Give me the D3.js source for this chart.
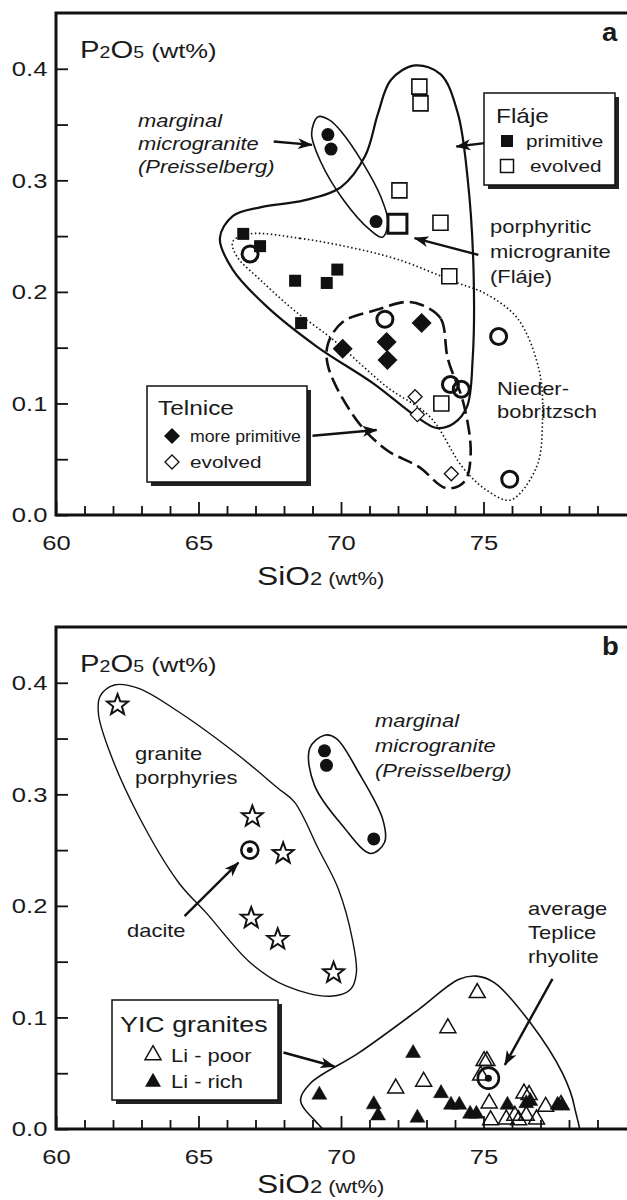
<!DOCTYPE html>
<html><head><meta charset="utf-8">
<script src="https://cdn.jsdelivr.net/npm/d3@7"></script>
<style>
body{margin:0;background:#fff}
svg{display:block}
text{font-family:"Liberation Sans",Arial,Helvetica,sans-serif;fill:#1a1a1a}
</style>
</head><body>
<svg id="c" width="627" height="1200"></svg>
<script>
// ---------------- DATA ----------------
const xDomain = [60, 80];
const yDomain = [0, 0.45];
const xMajor = [60, 65, 70, 75];
const xMinor = [61,62,63,64,66,67,68,69,71,72,73,74,76,77,78,79];
const yMajor = [0, 0.1, 0.2, 0.3, 0.4];
const yMinor = [0.05, 0.15, 0.25, 0.35];

// Panel a  [SiO2, P2O5]
const flajePrimitive = [[66.57,0.252],[67.16,0.241],[68.39,0.210],[69.50,0.208],[69.87,0.220],[68.60,0.172]];
const flajeEvolved = [[72.75,0.384],[72.79,0.369],[72.05,0.291],[73.49,0.262],[73.80,0.214],[73.52,0.100]];
const porphyriticFlaje = [[71.98,0.261]];
const preisselbergA = [[69.54,0.341],[69.65,0.328],[71.23,0.263]];
const niederbobritzsch = [[66.81,0.234],[71.54,0.1755],[75.53,0.160],[73.84,0.117],[74.22,0.1127],[75.92,0.032]];
const telnicePrimitive = [[72.83,0.172],[71.60,0.155],[71.63,0.139],[70.06,0.149]];
const telniceEvolved = [[72.60,0.106],[72.68,0.090],[73.87,0.037]];

// Panel b
const granitePorphyries = [[62.16,0.380],[66.89,0.280],[67.97,0.247],[66.85,0.189],[67.78,0.170],[69.74,0.140]];
const dacite = [[66.80,0.250]];
const preisselbergB = [[69.42,0.339],[69.49,0.326],[71.15,0.260]];
const liPoor = [[74.78,0.122],[73.75,0.0905],[75.02,0.061],[75.12,0.061],[74.90,0.048],[71.92,0.0365],[72.90,0.0425],
  [75.20,0.023],[75.25,0.008],[76.42,0.032],[76.60,0.0306],[77.18,0.020],[77.72,0.0216],[76.86,0.0087],[75.80,0.0087],
  [76.23,0.008],[76.50,0.012],[76.10,0.012]];
const liRich = [[69.24,0.0306],[72.53,0.068],[71.15,0.022],[71.30,0.012],[72.68,0.010],[73.51,0.032],[73.86,0.0216],
  [74.15,0.0216],[74.53,0.0135],[74.75,0.0135],[75.84,0.0216],[76.50,0.023],[76.64,0.025],[77.60,0.0216],[77.75,0.021]];
const tepliceRhyolite = [[75.17,0.0456]];

// Field outlines (closed curves) [SiO2, P2O5]
const fieldFlaje = [[72.6,0.403],[73.5,0.395],[74.1,0.36],[74.45,0.30],[74.65,0.22],[74.62,0.14],[74.42,0.097],[73.95,0.082],
  [73.35,0.078],[72.65,0.088],[71.13,0.118],[69.15,0.151],[67.39,0.187],[66.2,0.22],[65.75,0.248],[66.2,0.268],[67.2,0.276],
  [68.7,0.282],[70.0,0.294],[70.85,0.322],[71.3,0.36],[71.75,0.39]];
const fieldPreisselbergA = [[69.2,0.357],[69.6,0.354],[70.0,0.344],[70.78,0.315],[71.4,0.285],[71.65,0.262],[71.45,0.249],
  [71.0,0.256],[70.1,0.282],[69.3,0.316],[68.97,0.342]];
const fieldNieder = [[66.8,0.252],[68.56,0.248],[70.3,0.240],[72.0,0.229],[74.1,0.208],[75.1,0.198],[76.2,0.176],[76.95,0.13],
  [77.07,0.085],[76.86,0.043],[75.95,0.0135],[75.1,0.0224],[74.26,0.043],[73.12,0.088],[71.6,0.115],[69.73,0.157],
  [68.33,0.184],[67.16,0.211],[66.34,0.232],[66.2,0.245]];
const fieldTelnice = [[72.86,0.188],[73.5,0.176],[73.75,0.14],[74.3,0.10],[74.55,0.055],[74.33,0.030],[73.70,0.024],
  [72.72,0.0433],[71.6,0.0583],[70.55,0.085],[69.55,0.133],[69.55,0.154],[70.08,0.1734],[71.25,0.1839],[72.3,0.191]];
const fieldPorphyries = [[62.05,0.398],[62.9,0.395],[64.3,0.374],[66.4,0.335],[67.81,0.305],[68.37,0.293],[69.21,0.251],
  [69.91,0.215],[70.4,0.170],[70.54,0.140],[70.33,0.125],[69.63,0.119],[68.09,0.128],[66.82,0.149],[65.28,0.1935],
  [64.3,0.221],[62.89,0.281],[61.84,0.341],[61.49,0.372],[61.55,0.388]];
const fieldPreisselbergB = [[69.42,0.353],[69.84,0.350],[70.61,0.320],[71.46,0.278],[71.53,0.257],[71.04,0.247],
  [70.05,0.272],[69.07,0.308],[68.9,0.341]];
const fieldYIC = [[74.75,0.137],[75.39,0.131],[76.65,0.095],[77.77,0.050],[78.19,0.020],[78.25,-0.02],[70.5,-0.02],
  [69.07,0.008],[68.58,0.026],[68.93,0.041],[70.61,0.068],[72.72,0.107],[74.12,0.134]];

// Arrows [from, to] in data units
const arrowsA = [[[67.64,0.3348],[68.98,0.3318]],[[75.04,0.3334],[74.05,0.3303]],
  [[74.82,0.2332],[72.58,0.2482]],[[69.0,0.0711],[71.25,0.0762]]];
const arrowsB = [[[64.51,0.1908],[66.40,0.2388]],[[67.98,0.0686],[69.77,0.056]],[[77.42,0.1346],[75.75,0.0575]]];

// ---------------- DRAW ----------------
const SX = 1.22;
const svg = d3.select("#c");
const defs = svg.append("defs");
defs.append("marker").attr("id","ah").attr("viewBox","0 -6 15 12").attr("refX",14).attr("refY",0)
  .attr("markerWidth",15).attr("markerHeight",12).attr("markerUnits","userSpaceOnUse").attr("orient","auto")
  .append("path").attr("d","M0,-5.5L15,0L0,5.5L4,0Z").attr("fill","#111");

const LEFT = 56, RIGHT = 627, XR = 626;

const sq = s => `M${-s/2},${-s/2}h${s}v${s}h${-s}Z`;
const dia = r => `M0,${-r}L${r},0L0,${r}L${-r},0Z`;
const tri = s => { const h = s*0.87; return `M0,${-2*h/3}L${s/2},${h/3}L${-s/2},${h/3}Z`; };
const star = (R, r) => { let p = ""; for (let i = 0; i < 10; i++) { const a = -Math.PI/2 + i*Math.PI/5; const rr = i%2 ? r : R; p += (i ? "L" : "M") + (rr*Math.cos(a)).toFixed(2) + "," + (rr*Math.sin(a)).toFixed(2); } return p + "Z"; };
const circ = r => `M${r},0A${r},${r} 0 1,1 ${-r},0A${r},${r} 0 1,1 ${r},0Z`;

function label(g, x, y, str, size, o = {}) {
  const t = g.append("text").attr("transform", `translate(${x},${y}) scale(${o.sx || SX},1)`).attr("font-size", size);
  if (o.italic) t.attr("font-style", "italic");
  if (o.bold) t.attr("font-weight", "bold");
  if (o.anchor) t.attr("text-anchor", o.anchor);
  t.text(str);
  return t;
}
function lines(g, x, y, arr, size, lh, o) { arr.forEach((s, i) => label(g, x, y + i*lh, s, size, o)); }

function points(g, data, x, y, d, fill, stroke, sw) {
  g.append("g").selectAll("path").data(data).join("path")
    .attr("transform", p => `translate(${x(p[0])},${y(p[1])})`)
    .attr("d", d).attr("fill", fill).attr("stroke", stroke || "none").attr("stroke-width", sw || 0);
}

function panel(top, bottom, id) {
  const x = d3.scaleLinear(xDomain, [LEFT, XR]);
  const y = d3.scaleLinear(yDomain, [bottom, top]);
  const g = svg.append("g");
  defs.append("clipPath").attr("id", id).append("rect").attr("x", LEFT).attr("y", top).attr("width", RIGHT-LEFT).attr("height", bottom-top);
  const plot = g.append("g");
  const clipped = plot.append("g").attr("clip-path", `url(#${id})`);
  const ax = g.append("g").attr("class", "axes");
  const fmtX = d3.format("d"), fmtY = d3.format(".1f");
  ax.append("g").attr("transform", `translate(0,${bottom})`)
    .call(d3.axisBottom(x).tickValues(xMajor).tickSize(-13).tickPadding(20).tickFormat(fmtX));
  ax.append("g").attr("transform", `translate(0,${bottom})`)
    .call(d3.axisBottom(x).tickValues(xMinor).tickSize(-9).tickFormat(""));
  ax.append("g").attr("transform", `translate(${LEFT},0)`)
    .call(d3.axisLeft(y).tickValues(yMajor).tickSize(-12).tickPadding(7).tickFormat(fmtY));
  ax.append("g").attr("transform", `translate(${LEFT},0)`)
    .call(d3.axisLeft(y).tickValues(yMinor).tickSize(-12).tickFormat(""));
  ax.selectAll(".domain").remove();
  ax.selectAll(".tick line").attr("stroke", "#111").attr("stroke-width", 1.8);
  ax.selectAll(".tick text").attr("font-size", 21).attr("fill", "#1a1a1a")
    .attr("font-family", '"Liberation Sans",Arial,sans-serif')
    .attr("transform", `scale(${SX},1)`);
  ax.append("path").attr("d", `M${RIGHT},${top}H${LEFT}V${bottom}H${RIGHT}`)
    .attr("fill", "none").attr("stroke", "#111").attr("stroke-width", 3).attr("stroke-linejoin", "miter");
  return {g, plot, clipped, x, y};
}

function arrows(g, list, x, y) {
  g.append("g").selectAll("line").data(list).join("line")
    .attr("x1", d => x(d[0][0])).attr("y1", d => y(d[0][1]))
    .attr("x2", d => x(d[1][0])).attr("y2", d => y(d[1][1]))
    .attr("stroke", "#111").attr("stroke-width", 2.4).attr("marker-end", "url(#ah)");
}
function field(g, data, x, y, sw, dash) {
  const ln = d3.line().x(d => x(d[0])).y(d => y(d[1])).curve(d3.curveCatmullRomClosed.alpha(0.5));
  const p = g.append("path").datum(data).attr("d", ln).attr("fill", "none").attr("stroke", "#111").attr("stroke-width", sw);
  if (dash) p.attr("stroke-dasharray", dash);
  return p;
}
function axisTitles(g, top, xBase, letter) {
  const t = g.append("text").attr("transform", `translate(80,${top + 45}) scale(${SX},1)`);
  t.append("tspan").attr("font-size", 24).text("P");
  t.append("tspan").attr("font-size", 16).text("2");
  t.append("tspan").attr("font-size", 24).text("O");
  t.append("tspan").attr("font-size", 16).text("5");
  t.append("tspan").attr("font-size", 21).text(" (wt%)");
  label(g, 602, top + 28, letter, 25, {bold: true, sx: 1.1});
  const s = g.append("text").attr("transform", `translate(257,${xBase}) scale(${SX},1)`);
  s.append("tspan").attr("font-size", 26).text("SiO");
  s.append("tspan").attr("font-size", 18).text("2 (wt%)");
}
function legendBox(g, x0, y0, w, h) {
  g.append("rect").attr("x", x0 + 4).attr("y", y0 + 4).attr("width", w).attr("height", h).attr("fill", "#222");
  g.append("rect").attr("x", x0).attr("y", y0).attr("width", w).attr("height", h).attr("fill", "#fff").attr("stroke", "#111").attr("stroke-width", 1.5);
}

// ===== Panel a =====
{
  const P = panel(13, 515, "clipA");
  const {plot, clipped, x, y, g} = P;
  field(clipped, fieldFlaje, x, y, 2.2);
  field(clipped, fieldPreisselbergA, x, y, 1.6);
  field(clipped, fieldNieder, x, y, 1.6, "1.5,2.5");
  field(clipped, fieldTelnice, x, y, 2.6, "15,6");
  arrows(plot, arrowsA, x, y);
  points(plot, flajePrimitive, x, y, sq(12), "#111");
  points(plot, niederbobritzsch, x, y, circ(8), "none", "#111", 3);
  points(plot, flajeEvolved, x, y, sq(15), "#fff", "#111", 1.6);
  points(plot, porphyriticFlaje, x, y, sq(19), "#fff", "#111", 3);
  points(plot, preisselbergA, x, y, circ(6.5), "#111");
  points(plot, telnicePrimitive, x, y, dia(10), "#111");
  points(plot, telniceEvolved, x, y, dia(7), "#fff", "#111", 1.3);
  axisTitles(g, 13, 585, "a");
  lines(g, 138, 127, ["marginal", "microgranite", "(Preisselberg)"], 18, 23, {italic: true});
  lines(g, 490, 233, ["porphyritic", "microgranite", "(Fláje)"], 18, 25);
  lines(g, 497, 395, ["Nieder-", "bobritzsch"], 18, 23);
  legendBox(g, 484, 93, 131, 92);
  label(g, 496, 123, "Fláje", 20);
  g.append("path").attr("transform", "translate(507,141)").attr("d", sq(12)).attr("fill", "#111");
  label(g, 526, 147, "primitive", 17);
  g.append("path").attr("transform", "translate(507,166)").attr("d", sq(13)).attr("fill", "#fff").attr("stroke", "#111").attr("stroke-width", 1.5);
  label(g, 530, 172, "evolved", 17);
  legendBox(g, 147, 386, 160, 96);
  label(g, 158, 415, "Telnice", 20);
  g.append("path").attr("transform", "translate(172,436)").attr("d", dia(8)).attr("fill", "#111");
  label(g, 190, 442, "more primitive", 17, {sx: 1.04});
  g.append("path").attr("transform", "translate(172,462)").attr("d", dia(7)).attr("fill", "#fff").attr("stroke", "#111").attr("stroke-width", 1.3);
  label(g, 190, 468, "evolved", 17);
}

// ===== Panel b =====
{
  const P = panel(627, 1129, "clipB");
  const {plot, clipped, x, y, g} = P;
  field(clipped, fieldPorphyries, x, y, 1.4);
  field(clipped, fieldPreisselbergB, x, y, 1.6);
  field(clipped, fieldYIC, x, y, 1.6);
  arrows(plot, arrowsB, x, y);
  points(plot, granitePorphyries, x, y, star(11, 4.6), "#fff", "#111", 2);
  points(plot, dacite, x, y, circ(8.5), "#fff", "#111", 2.6);
  points(plot, dacite, x, y, circ(3), "#111");
  points(plot, preisselbergB, x, y, circ(6.5), "#111");
  points(plot, liPoor, x, y, tri(16), "none", "#111", 1.5);
  points(plot, liRich, x, y, tri(15), "#111", "#111", 0.5);
  points(plot, tepliceRhyolite, x, y, circ(10.5), "none", "#111", 2.6);
  points(plot, tepliceRhyolite, x, y, circ(3.5), "#111");
  axisTitles(g, 627, 1193, "b");
  lines(g, 135, 760, ["granite", "porphyries"], 18, 24);
  lines(g, 375, 727, ["marginal", "microgranite", "(Preisselberg)"], 18, 25, {italic: true});
  label(g, 127, 937, "dacite", 18);
  lines(g, 528, 915, ["average", "Teplice", "rhyolite"], 18, 24);
  legendBox(g, 112, 1000, 166, 100);
  label(g, 120, 1032, "YIC granites", 22);
  g.append("path").attr("transform", "translate(153,1055)").attr("d", tri(16)).attr("fill", "#fff").attr("stroke", "#111").attr("stroke-width", 1.5);
  label(g, 171, 1062, "Li - poor", 18);
  g.append("path").attr("transform", "translate(153,1082)").attr("d", tri(16)).attr("fill", "#111");
  label(g, 171, 1088, "Li - rich", 18);
}
</script>
</body></html>
